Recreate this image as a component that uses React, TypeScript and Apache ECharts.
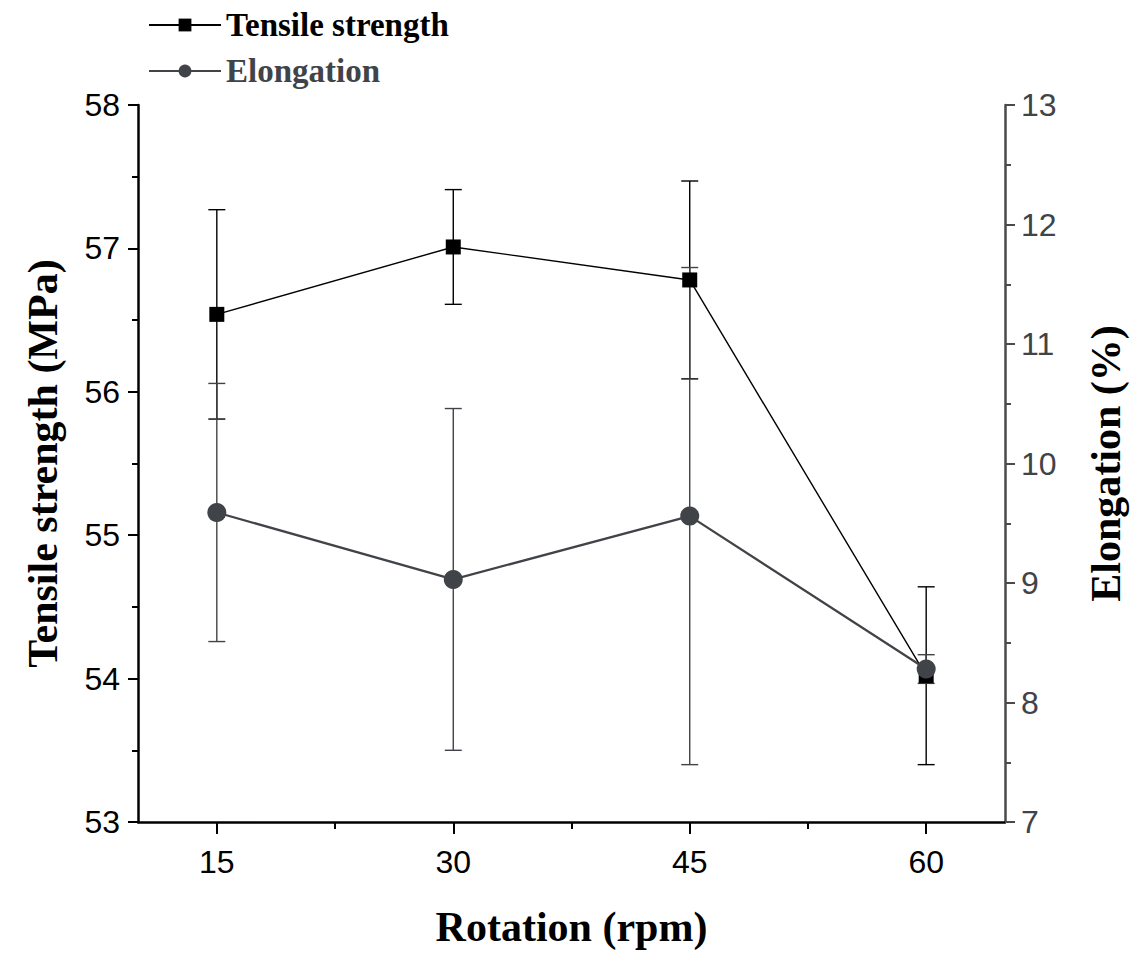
import React, { useEffect, useRef } from "react";
import * as echarts from "echarts";

const rotation = [15, 30, 45, 60];
const tensile = [56.54, 57.01, 56.78, 54.02];
const tensileErr = [0.73, 0.4, 0.69, 0.62];
const elongation = [9.59, 9.03, 9.56, 8.28];
const elongationErr = [1.08, 1.43, 2.08, 0.12];

const xTicks = [15, 30, 45, 60];
const xMinorTicks = [22.5, 37.5, 52.5];

const TENSILE_COLOR = "#000000";
const ELONG_COLOR = "#404347";
const SERIF = "'Liberation Serif', 'Times New Roman', serif";
const SANS = "'Liberation Sans', Arial, sans-serif";

function errorBars(color: string) {
  return (params: any, api: any) => {
    const x = api.value(0);
    const lo = api.coord([x, api.value(1)]);
    const hi = api.coord([x, api.value(2)]);
    const hw = 8.5;
    const style = { stroke: color, lineWidth: 1.4, fill: "none" };
    return {
      type: "group",
      children: [
        { type: "line", shape: { x1: lo[0], y1: lo[1], x2: hi[0], y2: hi[1] }, style },
        { type: "line", shape: { x1: lo[0] - hw, y1: lo[1], x2: lo[0] + hw, y2: lo[1] }, style },
        { type: "line", shape: { x1: hi[0] - hw, y1: hi[1], x2: hi[0] + hw, y2: hi[1] }, style },
      ],
    };
  };
}

export default function App() {
  const ref = useRef<HTMLDivElement>(null);
  useEffect(() => {
    if (!ref.current) return;
    const chart = echarts.init(ref.current, null, { renderer: "svg" });
    const tensileData = rotation.map((r, i) => [r, tensile[i]]);
    const elongData = rotation.map((r, i) => [r, elongation[i]]);
    const tensileErrData = rotation.map((r, i) => [r, tensile[i] - tensileErr[i], tensile[i] + tensileErr[i]]);
    const elongErrData = rotation.map((r, i) => [r, elongation[i] - elongationErr[i], elongation[i] + elongationErr[i]]);

    chart.setOption({
      animation: false,
      backgroundColor: "#ffffff",
      grid: { left: 138, right: 130, top: 105, bottom: 131, containLabel: false, outerBoundsMode: "none" },
      legend: {
        orient: "vertical",
        left: 143,
        top: 2,
        itemWidth: 72,
        itemHeight: 16,
        itemGap: 10,
        data: [
          { name: "Tensile strength", textStyle: { color: TENSILE_COLOR } },
          { name: "Elongation", textStyle: { color: ELONG_COLOR } },
        ],
        textStyle: { fontFamily: SERIF, fontWeight: "bold", fontSize: 33, lineHeight: 36, padding: [0, 0, 0, 0] },
      },
      xAxis: [
        {
          type: "value",
          min: 10,
          max: 65,
          position: "bottom",
          splitLine: { show: false },
          axisLine: { show: true, onZero: false, lineStyle: { color: "#000", width: 2.5 } },
          axisTick: { show: true, customValues: xTicks, length: 12, lineStyle: { color: "#000", width: 2 } },
          axisLabel: {
            customValues: xTicks,
            fontFamily: SANS,
            fontSize: 32,
            color: "#000",
            margin: 24,
          },
          name: "Rotation (rpm)",
          nameLocation: "middle",
          nameGap: 84,
          nameTextStyle: { fontFamily: SERIF, fontWeight: "bold", fontSize: 42, color: "#000" },
        },
        {
          type: "value",
          min: 10,
          max: 65,
          position: "bottom",
          splitLine: { show: false },
          axisLine: { show: false, onZero: false },
          axisTick: { show: true, customValues: xMinorTicks, length: 7, lineStyle: { color: "#000", width: 2 } },
          axisLabel: { show: false },
        },
      ],
      yAxis: [
        {
          type: "value",
          min: 53,
          max: 58,
          interval: 1,
          position: "left",
          splitLine: { show: false },
          axisLine: { show: true, onZero: false, lineStyle: { color: "#000", width: 2.5 } },
          axisTick: { show: true, length: 10, lineStyle: { color: "#000", width: 2 } },
          minorTick: { show: true, splitNumber: 2, length: 6, lineStyle: { color: "#000", width: 2 } },
          axisLabel: { fontFamily: SANS, fontSize: 32, color: "#000", margin: 18 },
          name: "Tensile strength (MPa)",
          nameLocation: "middle",
          nameGap: 74,
          nameRotate: 90,
          nameTextStyle: { fontFamily: SERIF, fontWeight: "bold", fontSize: 42, color: "#000" },
        },
        {
          type: "value",
          min: 7,
          max: 13,
          interval: 1,
          position: "right",
          splitLine: { show: false },
          axisLine: { show: true, onZero: false, lineStyle: { color: "#4a4a4a", width: 2.5 } },
          axisTick: { show: true, length: 10, lineStyle: { color: "#4a4a4a", width: 2 } },
          minorTick: { show: true, splitNumber: 2, length: 6, lineStyle: { color: "#4a4a4a", width: 2 } },
          axisLabel: { fontFamily: SANS, fontSize: 32, color: "#404347", margin: 16 },
          name: "Elongation (%)",
          nameLocation: "middle",
          nameGap: 80,
          nameRotate: 90,
          nameTextStyle: { fontFamily: SERIF, fontWeight: "bold", fontSize: 42, color: "#000" },
        },
      ],
      series: [
        {
          type: "custom",
          name: "tensileErr",
          xAxisIndex: 0,
          yAxisIndex: 0,
          data: tensileErrData,
          encode: { x: 0, y: [1, 2] },
          renderItem: errorBars(TENSILE_COLOR),
          z: 1,
          silent: true,
        },
        {
          type: "custom",
          name: "elongErr",
          xAxisIndex: 0,
          yAxisIndex: 1,
          data: elongErrData,
          encode: { x: 0, y: [1, 2] },
          renderItem: errorBars(ELONG_COLOR),
          z: 1,
          silent: true,
        },
        {
          type: "line",
          name: "Tensile strength",
          xAxisIndex: 0,
          yAxisIndex: 0,
          data: tensileData,
          symbol: "rect",
          symbolSize: 15,
          itemStyle: { color: TENSILE_COLOR },
          lineStyle: { color: TENSILE_COLOR, width: 1.4 },
          z: 3,
        },
        {
          type: "line",
          name: "Elongation",
          xAxisIndex: 0,
          yAxisIndex: 1,
          data: elongData,
          symbol: "circle",
          symbolSize: 19,
          itemStyle: { color: ELONG_COLOR },
          lineStyle: { color: ELONG_COLOR, width: 2.2 },
          z: 4,
        },
      ],
    });
    return () => chart.dispose();
  }, []);
  return (
    <div
      ref={ref}
      style={{ position: "fixed", left: 0, top: 0, width: 1135, height: 953, background: "#fff" }}
    />
  );
}
